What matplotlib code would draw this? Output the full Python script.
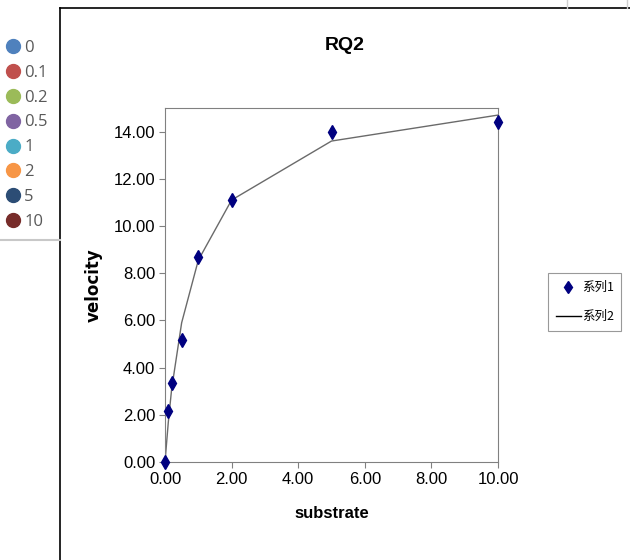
import matplotlib.pyplot as plt
from matplotlib.lines import Line2D

plt.rcParams['font.family'] = ['Liberation Sans Narrow', 'Liberation Sans', 'DejaVu Sans']

# data
substrate = [0, 0.1, 0.2, 0.5, 1, 2, 5, 10]
velocity = [0.0, 2.18, 3.35, 5.15, 8.7, 11.1, 14.0, 14.4]
fitted = [0.0, 1.7, 3.1, 5.9, 8.55, 11.1, 13.6, 14.7]
x_ticks = [0, 2, 4, 6, 8, 10]
y_ticks = [0, 2, 4, 6, 8, 10, 12, 14]

side_labels = ['0', '0.1', '0.2', '0.5', '1', '2', '5', '10']
side_colors = ['#4F81BD', '#C0504D', '#9BBB59', '#8064A2',
               '#4BACC6', '#F79646', '#2C4D75', '#772C2A']

W, H = 630, 560
fig = plt.figure(figsize=(6.3, 5.6), dpi=100)

ax = fig.add_axes([165 / W, 1 - 462 / H, 333 / W, 354 / H])
ax.plot(substrate, fitted, color='#6a6a6a', lw=1.0, label='系列2', zorder=2)
ax.plot(substrate, velocity, ls='none', marker='d', ms=7, color='#000080',
        label='系列1', zorder=3, clip_on=False)

ax.set_xlim(0, 10)
ax.set_ylim(0, 15)
ax.set_xticks(x_ticks)
ax.set_yticks(y_ticks)
ax.set_xticklabels([f'{v:.2f}' for v in x_ticks])
ax.set_yticklabels([f'{v:.2f}' for v in y_ticks])
ax.tick_params(labelsize=12, length=4, color='#808080', pad=3)
for s in ax.spines.values():
    s.set_color('#808080')

ax.set_xlabel('substrate', fontsize=12, fontweight='bold', family=['Liberation Sans'], labelpad=14)
ax.set_ylabel('velocity', fontsize=12, fontweight='bold', family=['DejaVu Sans'], labelpad=8)
fig.text(345 / W, 1 - 45 / H, 'RQ2', fontsize=14, fontweight='bold',
         family=['Liberation Sans Narrow', 'Liberation Sans'], ha='center', va='center')

# legend on the right
h1 = Line2D([], [], ls='none', marker='d', ms=6, color='#000080')
h2 = Line2D([], [], color='#000000', lw=1.0)
leg = fig.legend([h1, h2], ['系列1', '系列2'], loc='center left',
                 bbox_to_anchor=(548 / W, 1 - 302 / H),
                 prop={'family': ['Noto Sans CJK SC', 'DejaVu Sans'], 'size': 9},
                 frameon=True, fancybox=False, edgecolor='#808080',
                 handlelength=2.0, handletextpad=0.1, borderpad=0.6,
                 labelspacing=1.3, borderaxespad=0)
leg.get_frame().set_linewidth(0.8)

# side panel with coloured dots
handles = [Line2D([], [], ls='none', marker='o', ms=10, color=c) for c in side_colors]
side = fig.legend(handles, side_labels, loc='upper left',
                  bbox_to_anchor=(6 / W, 1 - 40 / H), frameon=False,
                  prop={'family': ['Open Sans'], 'size': 12},
                  handlelength=0.8, handletextpad=0.3, labelspacing=0.53,
                  borderaxespad=0, borderpad=0, labelcolor='#595959')

# frame lines of the screenshot
fig.add_artist(Line2D([60 / W, 60 / W], [0, 1 - 8 / H], color='black', lw=1.2))
fig.add_artist(Line2D([60 / W, 1], [1 - 8 / H, 1 - 8 / H], color='black', lw=1.2))
fig.add_artist(Line2D([0, 60 / W], [1 - 240 / H, 1 - 240 / H], color='#c8c8c8', lw=1.5))
fig.add_artist(Line2D([567 / W, 567 / W], [1 - 8 / H, 1], color='#d0d0d0', lw=1))
fig.add_artist(Line2D([627 / W, 627 / W], [1 - 8 / H, 1], color='#d0d0d0', lw=1))

fig.savefig('out.png', dpi=100)
